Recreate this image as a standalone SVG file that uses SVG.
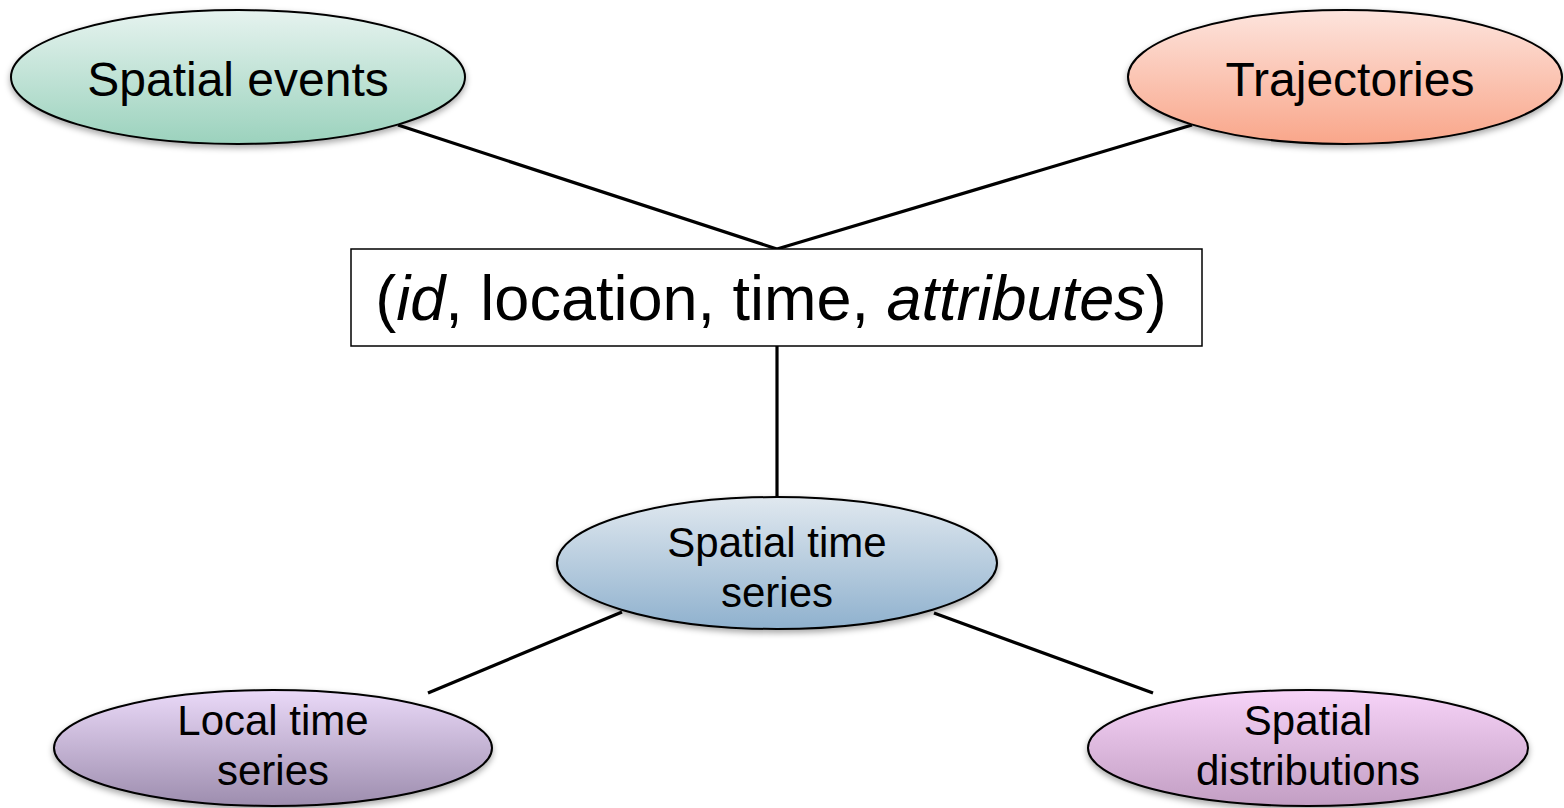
<svg xmlns="http://www.w3.org/2000/svg" width="1564" height="808" viewBox="0 0 1564 808">
<defs>
<linearGradient id="gGreen" x1="0" y1="0" x2="0" y2="1"><stop offset="0" stop-color="#e6f3ef"/><stop offset="1" stop-color="#9bd2bd"/></linearGradient>
<linearGradient id="gRed" x1="0" y1="0" x2="0" y2="1"><stop offset="0" stop-color="#fde4dd"/><stop offset="1" stop-color="#f9a68a"/></linearGradient>
<linearGradient id="gBlue" x1="0" y1="0" x2="0" y2="1"><stop offset="0" stop-color="#e0e8ef"/><stop offset="1" stop-color="#8fb1ce"/></linearGradient>
<linearGradient id="gPurple" x1="0" y1="0" x2="0" y2="1"><stop offset="0" stop-color="#ead9f8"/><stop offset="1" stop-color="#9d8dae"/></linearGradient>
<linearGradient id="gPink" x1="0" y1="0" x2="0" y2="1"><stop offset="0" stop-color="#f7d3f8"/><stop offset="1" stop-color="#c29ec3"/></linearGradient>
<filter id="shadow" x="-10%" y="-10%" width="120%" height="130%"><feDropShadow dx="0" dy="3" stdDeviation="3" flood-color="#000" flood-opacity="0.35"/></filter>
</defs>
<style>
.node ellipse{stroke:#000;stroke-width:2;filter:url(#shadow)}
.lbl{font-family:"Liberation Sans",Arial,sans-serif;fill:#000;text-anchor:middle}
.big{font-size:48px}
.med{font-size:42px}
.conn line{stroke:#000;stroke-width:3.2}
</style>
<g id="connectors" class="conn">
<line x1="398" y1="125" x2="777" y2="249"/>
<line x1="1192" y1="125" x2="777" y2="249"/>
<line x1="777" y1="346" x2="777" y2="497"/>
<line x1="622" y1="612" x2="428" y2="693"/>
<line x1="934" y1="613" x2="1153" y2="693"/>
</g>
<g id="spatial-events" class="node">
<ellipse cx="238" cy="77" rx="227" ry="67" fill="url(#gGreen)"/>
<text class="lbl big" x="238" y="96">Spatial events</text>
</g>
<g id="trajectories" class="node">
<ellipse cx="1345" cy="77" rx="217" ry="67" fill="url(#gRed)"/>
<text class="lbl big" x="1350" y="96">Trajectories</text>
</g>
<g id="record" class="node">
<rect x="351" y="249" width="851" height="97" fill="#fff" stroke="#000" stroke-width="1.5"/>
<text class="lbl" style="font-size:63px" x="771" y="320">(<tspan font-style="italic">id</tspan>, location, time, <tspan font-style="italic">attributes</tspan>)</text>
</g>
<g id="spatial-time-series" class="node">
<ellipse cx="777" cy="563" rx="220" ry="66" fill="url(#gBlue)"/>
<text class="lbl med" x="777" y="557">Spatial time</text>
<text class="lbl med" x="777" y="607">series</text>
</g>
<g id="local-time-series" class="node">
<ellipse cx="273" cy="748" rx="219" ry="58" fill="url(#gPurple)"/>
<text class="lbl med" x="273" y="735">Local time</text>
<text class="lbl med" x="273" y="785">series</text>
</g>
<g id="spatial-distributions" class="node">
<ellipse cx="1308" cy="748" rx="220" ry="58" fill="url(#gPink)"/>
<text class="lbl med" x="1308" y="735">Spatial</text>
<text class="lbl med" x="1308" y="785">distributions</text>
</g>
</svg>
